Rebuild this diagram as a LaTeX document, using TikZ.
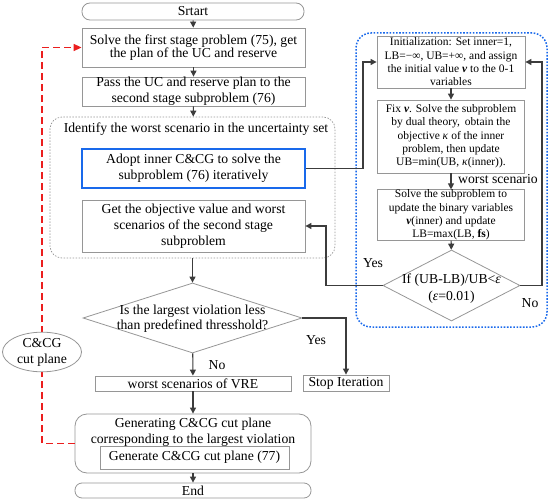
\documentclass[tikz,border=0pt]{standalone}
\usepackage{fontspec}
\setmainfont{Liberation Serif}
\usetikzlibrary{arrows.meta,shapes.geometric}
\definecolor{bblue}{RGB}{25,105,235}
\definecolor{rred}{RGB}{235,30,30}
\definecolor{lgray}{RGB}{150,150,150}
\definecolor{dgray}{RGB}{60,60,60}
\newcommand\bigf{\fontsize{13.7}{16}\selectfont}
\newcommand\tightf{\fontsize{13.7}{12.5}\selectfont}
\newcommand\smf{\fontsize{11.5}{13.3}\selectfont}
\begin{document}
\begin{tikzpicture}[x=1pt,y=-1pt,
  box/.style={draw=lgray, line width=0.8pt, rectangle, inner sep=0pt, align=center, font=\bigf},
  sbox/.style={box, font=\smf},
  rbox/.style={box, rounded corners=#1},
  dia/.style={draw=lgray, line width=0.8pt, diamond, inner sep=0pt},
  lbl/.style={inner sep=0pt, align=center, font=\bigf},
  conn/.style={draw=dgray, line width=1.1pt, -{Triangle[length=6pt,width=6pt]}},
  line/.style={draw=dgray, line width=1.1pt},
  reddash/.style={draw=rred, line width=1.6pt, dash pattern=on 7pt off 4pt},
]
\useasboundingbox (0,0) rectangle (550,503);

% left column
\node[rbox=8pt, minimum width=222pt, minimum height=17pt] (start) at (193,11.5) {Srtart};
\node[box, font=\tightf, minimum width=223pt, minimum height=39pt] (b1) at (193.5,47.5) {Solve the first stage problem (75), get\\the plan of the UC and reserve};
\node[box, minimum width=223pt, minimum height=29pt] (b2) at (193.5,91.5) {Pass the UC and reserve plan to the\\second stage subproblem (76)};
\node[draw=lgray, line width=0.7pt, dash pattern=on 1.5pt off 1.5pt, rounded corners=12pt, minimum width=285pt, minimum height=141pt, inner sep=0pt] (grp) at (192.5,187.5) {};
\node[lbl] (grpt) at (196,129) {Identify the worst scenario in the uncertainty set};
\node[box, draw=bblue, line width=1.6pt, minimum width=223pt, minimum height=39pt] (blue) at (193.5,168.5) {Adopt inner C\&CG to solve the\\subproblem (76) iteratively};
\node[box, minimum width=223pt, minimum height=52pt] (gray) at (193.5,226) {Get the objective value and worst\\scenarios of the second stage\\subproblem};
\node[dia, minimum width=219pt, minimum height=70pt] (d1) at (192.5,318) {};
\node[lbl, font=\fontsize{13.7}{15}\selectfont] (d1t) at (192.5,319) {Is the largest violation less\\than predefined thresshold?};
\node[lbl] (yes1) at (316,340) {Yes};
\node[lbl] (no1) at (217,365) {No};
\node[box, minimum width=86pt, minimum height=16pt] (stop) at (346,383) {Stop Iteration};
\node[box, minimum width=196pt, minimum height=15pt] (vre) at (193,383.5) {worst scenarios of VRE};
\node[rbox=12pt, minimum width=236pt, minimum height=59pt] (big) at (193,443.5) {};
\node[lbl] (bigt) at (193,432) {Generating C\&CG cut plane\\corresponding to the largest violation};
\node[box, minimum width=189pt, minimum height=23pt] (inner) at (194.5,457.5) {Generate C\&CG cut plane (77)};
\node[rbox=7pt, minimum width=236pt, minimum height=15pt] (end) at (193,490.5) {End};

% right column
\node[draw=bblue, line width=1.5pt, dash pattern=on 1.6pt off 1.6pt, rounded corners=15pt, minimum width=191pt, minimum height=294pt, inner sep=0pt] (rgrp) at (451.5,180) {};
\node[sbox, minimum width=148pt, minimum height=52pt] (init) at (451,62) {Initialization: Set inner=1,\\LB=−∞, UB=+∞, and assign\\the initial value \textbf{\textit{ν}} to the 0-1\\variables};
\node[sbox, minimum width=147pt, minimum height=73pt] (fix) at (451,136.5) {Fix \textbf{\textit{ν}}. Solve the subproblem\\by dual theory,\, obtain the\\objective \textit{κ} of the inner\\problem, then update\\UB=min(UB, \textit{κ}(inner)).};
\node[sbox, minimum width=147pt, minimum height=50pt] (solve) at (451,215) {Solve the subproblem to\\update the binary variables\\\textbf{\textit{ν}}(inner) and update\\LB=max(LB, \textbf{fs})};
\node[dia, minimum width=137pt, minimum height=71pt] (d2) at (451.5,285.5) {};
\node[lbl, font=\fontsize{13.7}{17}\selectfont] (d2t) at (451.5,288.5) {If (UB-LB)/UB<\textit{ε}\\(\textit{ε}=0.01)};
\node[lbl, anchor=west] (ws) at (458,179) {worst scenario};
\node[lbl] (yes2) at (373,263) {Yes};
\node[lbl] (no2) at (530,303) {No};

% coordinates
\coordinate (rc) at (42,47.5);
\coordinate (c1) at (363,62);
\coordinate (c2) at (326,226);
\coordinate (c3) at (542,62);

% connectors left
\draw[conn] (start) -- (b1);
\draw[conn] (b1) -- (b2);
\draw[conn] (b2) -- (grp);
\draw[conn] (grp) -- (d1);
\draw[conn] (d1) -- (vre);
\draw[conn] (vre) -- (big);
\draw[conn] (big) -- (end);
\draw[conn] (d1.east) -| (stop.north);

% red feedback
\draw[reddash, -{Triangle[length=8pt,width=7pt]}] (big.west) -| (rc) -- (b1.west);
\node[draw=lgray, line width=0.8pt, fill=white, ellipse, minimum width=79pt, minimum height=39pt, inner sep=0pt, align=center, font=\fontsize{13.7}{16}\selectfont] (cut) at (42,352) {C\&CG\\cut plane};

% connectors right
\draw[conn] (init) -- (fix);
\draw[conn] (fix) -- (solve);
\draw[conn] (solve) -- (d2);
\draw[conn] (blue.east) -| (c1) -- (init.west);
\draw[conn] (d2.west) -| (c2) -- (gray.east);
\draw[conn] (d2.east) -| (c3) -- (init.east);
\end{tikzpicture}
\end{document}
